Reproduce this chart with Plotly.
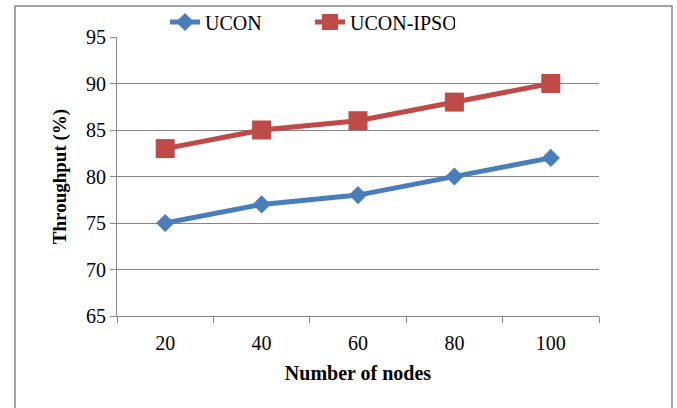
import plotly.graph_objects as go

nodes = ["20", "40", "60", "80", "100"]
ucon = [75, 77, 78, 80, 82]
ucon_ipso = [83, 85, 86, 88, 90]
y_ticks = [65, 70, 75, 80, 85, 90, 95]

blue = "#4A7EBB"
red = "#BE4B48"
grid = "#868686"

fig = go.Figure()
fig.add_trace(go.Scatter(x=nodes, y=ucon, name="UCON", mode="lines+markers",
                         line=dict(color=blue, width=5),
                         marker=dict(symbol="diamond", size=14, color=blue)))
fig.add_trace(go.Scatter(x=nodes, y=ucon_ipso, name="UCON-IPSO", mode="lines+markers",
                         line=dict(color=red, width=5),
                         marker=dict(symbol="square", size=19, color=red)))

W, H = 677, 408
L, R, T, B = 117, 78, 37, 92
pw, ph = W - L - R, H - T - B

fig.update_layout(
    width=W, height=H,
    margin=dict(l=L, r=R, t=T, b=B, autoexpand=False),
    paper_bgcolor="white", plot_bgcolor="white",
    font=dict(family="Liberation Serif", size=19, color="black"),
    showlegend=True,
    legend=dict(orientation="h", x=(165 - L) / pw, xanchor="left", y=1.0 + 15 / ph, yanchor="middle",
                font=dict(size=20), bgcolor="rgba(0,0,0,0)", itemwidth=30,
                entrywidth=100, tracegroupgap=0),
    xaxis=dict(type="category", range=[-0.5, 4.5], showgrid=False,
               showline=True, linecolor=grid, linewidth=1,
               ticks="outside", ticklen=6, tickcolor=grid, tickson="boundaries",
               tickfont=dict(size=20), ticklabelstandoff=9,
               title=dict(text="<b>Number of nodes</b>", font=dict(size=20), standoff=12)),
    yaxis=dict(range=[65, 95], tickvals=y_ticks, showgrid=True, gridcolor=grid, gridwidth=1,
               showline=True, linecolor=grid, linewidth=1,
               ticks="outside", ticklen=6, tickcolor=grid,
               tickfont=dict(size=20),
               title=dict(text="<b>Throughput (%)</b>", font=dict(size=19), standoff=14)),
)

# outer chart border
fig.add_shape(type="rect", xref="paper", yref="paper",
              x0=(15 - L) / pw, x1=(672 - L) / pw,
              y0=-(B + 5) / ph,
              y1=(H - B - 6) / ph,
              line=dict(color=grid, width=1.5), fillcolor="rgba(0,0,0,0)", layer="below")

fig.write_html("out.html")
